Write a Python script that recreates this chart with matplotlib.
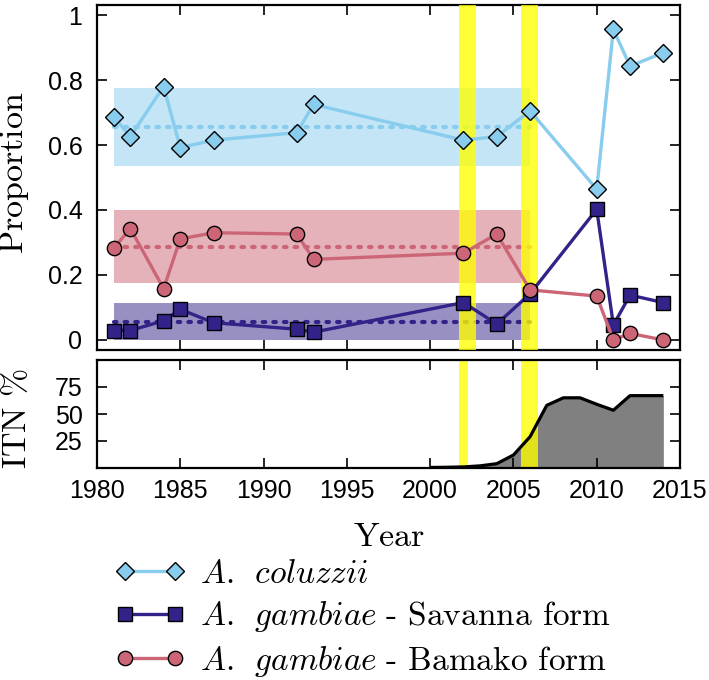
import matplotlib
matplotlib.use("Agg")
import matplotlib.pyplot as plt
from matplotlib.lines import Line2D
from matplotlib.legend_handler import HandlerLine2D

plt.rcParams['mathtext.fontset'] = 'cm'
plt.rcParams['font.family'] = ['Liberation Sans', 'DejaVu Sans']

# ---------------- data ----------------
years = [1981, 1982, 1984, 1985, 1987, 1992, 1993, 2002, 2004, 2006, 2010, 2011, 2012, 2014]
coluzzii = [0.687, 0.626, 0.780, 0.592, 0.615, 0.638, 0.725, 0.615, 0.626, 0.705, 0.464, 0.956, 0.843, 0.884]
savanna = [0.029, 0.029, 0.059, 0.094, 0.053, 0.033, 0.024, 0.115, 0.049, 0.142, 0.402, 0.046, 0.138, 0.115]
bamako = [0.282, 0.343, 0.158, 0.311, 0.330, 0.326, 0.248, 0.267, 0.326, 0.154, 0.135, 0.000, 0.020, 0.000]

# baseline (pre-2006) mean and range bands
band_years = [1981, 2006]
band_mean = [0.656, 0.054, 0.287]
band_low = [0.536, 0.000, 0.176]
band_high = [0.774, 0.115, 0.400]

# ITN coverage
itn_years = [2000, 2001, 2002, 2003, 2004, 2005, 2006, 2007, 2008, 2009, 2010, 2011, 2012, 2013, 2014]
itn_pct = [0.5, 0.7, 1.0, 2.0, 4.0, 12.0, 29.0, 58.0, 65.0, 65.0, 59.0, 53.5, 67.0, 67.0, 67.0]

# highlighted periods
yellow_top = [(2001.72, 2002.75), (2005.45, 2006.5)]
yellow_bottom = [(2001.72, 2002.3), (2005.45, 2006.5)]

labels = [r'$A.\ \,coluzzii$',
          r'$A.\ \,gambiae$ $\text{- Savanna form}$',
          r'$A.\ \,gambiae$ $\text{- Bamako form}$']
colors = ['#88CCEE', '#332288', '#CC6677']
markers = ['D', 's', 'o']
msizes = [9, 10.3, 10.3]

W, H = 709, 680
fig = plt.figure(figsize=(W / 100, H / 100), dpi=100)
ax1 = fig.add_axes([97 / W, 1 - 350 / H, 583 / W, 345 / H])
ax2 = fig.add_axes([97 / W, 1 - 468 / H, 583 / W, 108 / H])

series = [coluzzii, savanna, bamako]
handles = []
for i, c in enumerate(colors):
    ax1.fill_between(band_years, [band_low[i]] * 2, [band_high[i]] * 2,
                     color=c, alpha=0.5, lw=0, zorder=1)
    ax1.plot(band_years, [band_mean[i]] * 2, color=c, lw=3.0,
             linestyle=(0, (0.6, 1.95)), dash_capstyle='round', zorder=2)

for (a, b) in yellow_top:
    ax1.axvspan(a, b, color='#FFFF00', alpha=0.78, lw=0, zorder=3)

for i, (vals, c, m, ms) in enumerate(zip(series, colors, markers, msizes)):
    ln, = ax1.plot(years, vals, color=c, lw=2.4, marker=m, ms=ms,
                   mfc=c, mec='black', mew=1.0, zorder=4 + i * 0.1)
    handles.append(ln)

ax1.set_xlim(1980, 2015)
ax1.set_ylim(-0.031, 1.031)
ax1.set_yticks([0, 0.2, 0.4, 0.6, 0.8, 1.0])
ax1.set_yticklabels(['0', '0.2', '0.4', '0.6', '0.8', '1'])
ax1.set_xticks(range(1980, 2016, 5))
ax1.tick_params(labelbottom=False)

# ITN panel
ax2.fill_between(itn_years, 0, itn_pct, color='#808080', lw=0, zorder=1)
for (a, b) in yellow_bottom:
    ax2.axvspan(a, b, color='#FFFF00', alpha=0.78, lw=0, zorder=2)
ax2.plot(itn_years, itn_pct, color='black', lw=2.3, zorder=3,
         solid_capstyle='butt')
ax2.set_xlim(1980, 2015)
ax2.set_ylim(0, 100)
ax2.set_yticks([25, 50, 75])
ax2.set_xticks(range(1980, 2016, 5))

for ax in (ax1, ax2):
    for s in ax.spines.values():
        s.set_linewidth(1.6)
    ax.tick_params(direction='in', length=7, width=1.2, top=True, right=True,
                   labelsize=18)
    ax.tick_params(axis='y', pad=10.5)
    ax.tick_params(axis='x', pad=8)

fig.text(15 / W, 1 - 173 / H, r'$\mathrm{Proportion}$', rotation=90,
         ha='center', va='center', fontsize=24.5)
fig.text(18 / W, 1 - 419 / H, r'$\mathrm{ITN\ \%}$', rotation=90,
         ha='center', va='center', fontsize=24.5)
fig.text(389 / W, 1 - 537 / H, r'$\mathrm{Year}$', ha='center', va='center',
         fontsize=24.5)

fig.legend(handles, labels, loc='upper left', bbox_to_anchor=(125 / W, 1 - 559 / H),
           frameon=False, fontsize=24, numpoints=2, handlelength=1.5,
           handletextpad=0.74, labelspacing=0.28, borderpad=0, borderaxespad=0,
           handler_map={Line2D: HandlerLine2D(marker_pad=0)})

fig.savefig('out.png', dpi=100)
